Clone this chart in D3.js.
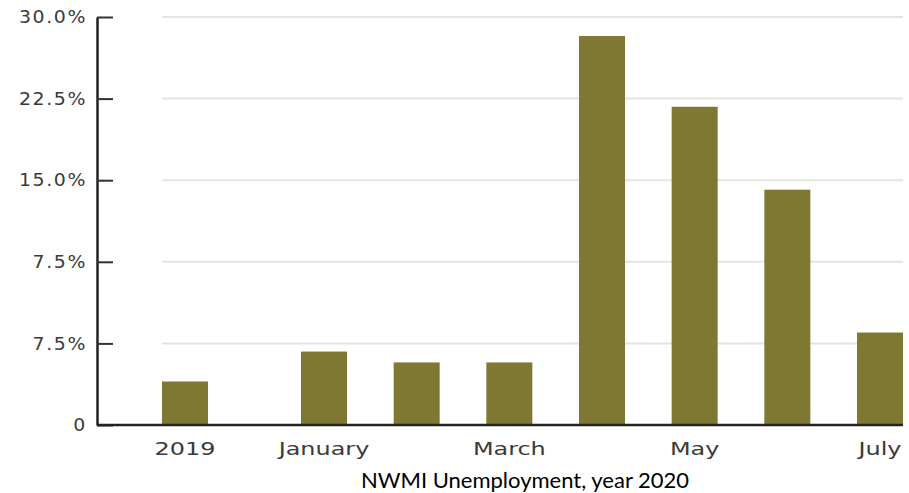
<!DOCTYPE html>
<html>
<head>
<meta charset="utf-8">
<script src="https://cdn.jsdelivr.net/npm/d3@7"></script>
<style>
  html, body { margin: 0; padding: 0; background: #fff; }
  svg { display: block; }
</style>
</head>
<body>
<svg id="chart" width="909" height="493"></svg>
<script>
// Monthly unemployment rate, NW Michigan
const categories = ["2019", "January", "February", "March", "April", "May", "June", "July"];
const categoryLabels = ["2019", "January", "", "March", "", "May", "", "July"];
const rates = [3.2, 5.4, 4.6, 4.6, 28.6, 23.4, 17.3, 6.8];
const tickValues = [0, 6, 12, 18, 24, 30];
const tickLabels = ["0", "7.5%", "7.5%", "15.0%", "22.5%", "30.0%"];
const title = "NWMI Unemployment, year 2020";

const svg = d3.select("#chart");
const axisX = 97, baseY = 425, topY = 17;
const barW = 46;
const labelFont = "'DejaVu Sans', Verdana, sans-serif";
const xStretch = 1.33, yStretch = 1.08;

const y = d3.scaleLinear().domain([0, 30]).range([baseY, topY]);

// 2019 sits half a slot apart from the 2020 months
const slotOf = i => (i === 0 ? 0 : i + 0.5);
const xSlot = d3.scaleLinear().domain([0, slotOf(categories.length - 1)]).range([185, 880]);
const cx = i => xSlot(slotOf(i));

const plotLeft = cx(0) - barW / 2;
const plotRight = cx(categories.length - 1) + barW / 2;

// horizontal gridlines
svg.append("g")
  .selectAll("line")
  .data(tickValues.filter(v => v > 0))
  .join("line")
  .attr("x1", plotLeft).attr("x2", plotRight)
  .attr("y1", d => y(d)).attr("y2", d => y(d))
  .attr("stroke", "#e4e4e4")
  .attr("stroke-width", 2);

// bars
svg.append("g")
  .selectAll("rect")
  .data(rates)
  .join("rect")
  .attr("x", (d, i) => cx(i) - barW / 2)
  .attr("width", barW)
  .attr("y", d => y(d))
  .attr("height", d => baseY - y(d))
  .attr("fill", "#7e7832");

// y axis
const yAxis = d3.axisRight(y)
  .tickValues(tickValues)
  .tickFormat((d, i) => tickLabels[i])
  .tickSize(16)
  .tickSizeOuter(0);

const gy = svg.append("g").attr("transform", `translate(${axisX},0)`).call(yAxis);
gy.select(".domain").attr("stroke", "#222").attr("stroke-width", 2.5);
gy.selectAll(".tick line").attr("stroke", "#333").attr("stroke-width", 2);
gy.selectAll(".tick text")
  .attr("x", -10 / yStretch)
  .attr("transform", `scale(${yStretch},1)`)
  .attr("text-anchor", "end")
  .attr("fill", "#3a3a3a")
  .style("font-family", labelFont)
  .style("font-size", "17.5px")
  .style("letter-spacing", "1.5px");

// x baseline
svg.append("line")
  .attr("x1", axisX).attr("x2", plotRight)
  .attr("y1", baseY).attr("y2", baseY)
  .attr("stroke", "#222")
  .attr("stroke-width", 2.5);

// x labels, slightly widened
svg.append("g")
  .selectAll("text")
  .data(categoryLabels)
  .join("text")
  .attr("transform", (d, i) => `translate(${cx(i)},455) scale(${xStretch},1)`)
  .attr("text-anchor", "middle")
  .attr("fill", "#3a3a3a")
  .style("font-family", labelFont)
  .style("font-size", "18px")
  .text(d => d);

// caption
svg.append("text")
  .attr("x", 525)
  .attr("y", 488)
  .attr("text-anchor", "middle")
  .attr("fill", "#000")
  .style("font-family", "Lato, sans-serif")
  .style("font-size", "22px")
  .text(title);
</script>
</body>
</html>
